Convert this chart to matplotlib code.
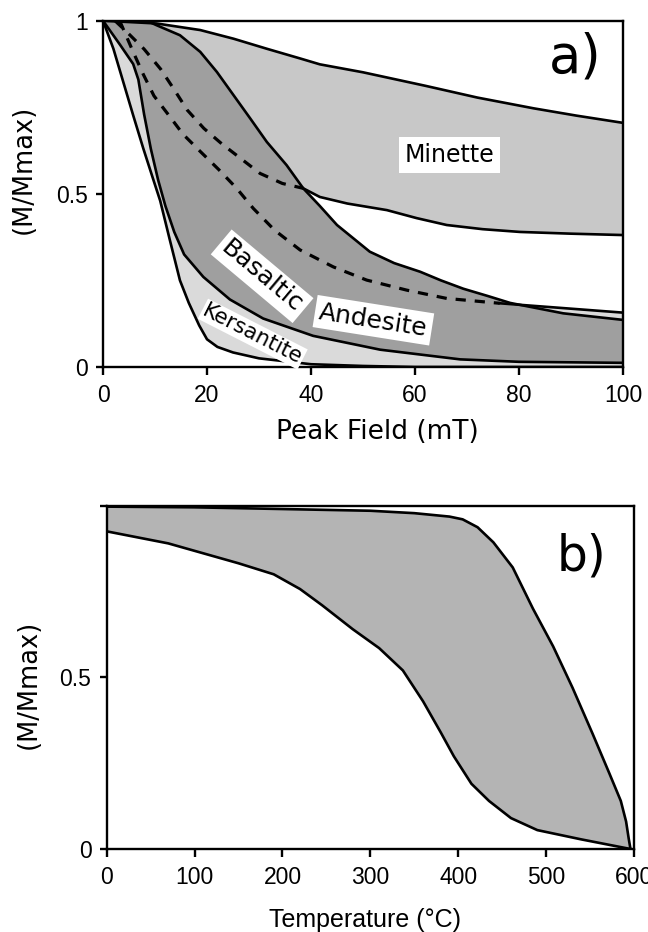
import numpy as np
import matplotlib
matplotlib.use("Agg")
import matplotlib.pyplot as plt

# ---- panel a: AF demagnetisation envelopes (Peak Field, mT) ----
minette_top_x = [0, 10.3, 18.7, 25.1, 31.5, 37.9, 41.7, 50, 62, 72, 82.8, 91, 100]
minette_top_y = [1.0, 0.992, 0.973, 0.948, 0.919, 0.891, 0.874, 0.851, 0.812, 0.778, 0.747, 0.726, 0.705]

# hidden (dashed) part of the minette lower bound, then the visible part
minette_low_dash_x = [2.3, 4.55, 7.9, 11.1, 13.65, 16.2, 19.4, 22.8, 26.5, 30.2, 34.5, 38.5]
minette_low_dash_y = [1.0, 0.968, 0.918, 0.860, 0.802, 0.742, 0.689, 0.645, 0.602, 0.559, 0.530, 0.516]
minette_low_x = [38.5, 41.7, 47, 54.6, 60.3, 66.1, 73, 80.2, 90, 100]
minette_low_y = [0.516, 0.491, 0.472, 0.453, 0.43, 0.41, 0.398, 0.39, 0.385, 0.381]

basalt_top_x = [0, 8.4, 10.3, 14.8, 18.7, 21.9, 25.1, 28.3, 31.5, 35.3, 38.5, 41.7, 45, 51.3,
                56, 61, 65, 69.3, 74, 78.3, 88.5, 100]
basalt_top_y = [1.0, 1.0, 0.987, 0.958, 0.910, 0.852, 0.785, 0.718, 0.650, 0.583, 0.516, 0.465,
                0.41, 0.333, 0.30, 0.275, 0.25, 0.226, 0.205, 0.185, 0.155, 0.136]
basalt_low_x = [0, 3.3, 5.8, 6.8, 7.9, 9.2, 10.6, 12, 13.7, 15.6, 19.3, 24.4, 30.8, 40.4,
                53.3, 68.7, 80, 100]
basalt_low_y = [1.0, 0.93, 0.875, 0.83, 0.73, 0.63, 0.54, 0.465, 0.39, 0.325, 0.26, 0.195,
                0.14, 0.09, 0.05, 0.022, 0.015, 0.012]

kers_low_x = [0, 2.0, 3.9, 5.8, 7.75, 9.7, 11.0, 12.8, 14.8, 16.5, 18.5, 20, 22, 25, 30, 40,
              50, 60, 100]
kers_low_y = [1.0, 0.919, 0.823, 0.727, 0.631, 0.54, 0.48, 0.37, 0.25, 0.185, 0.12, 0.08,
              0.058, 0.042, 0.025, 0.008, 0.003, 0.0, 0.0]
kers_top_dash_x = [3.2, 5.8, 7.75, 9.8, 12.75, 15.4, 18.8, 22.2, 25.7, 28.9, 33, 37.9, 44.3,
                   50.7, 58.4, 66.1, 76.3]
kers_top_dash_y = [1.0, 0.910, 0.845, 0.783, 0.725, 0.672, 0.621, 0.571, 0.516, 0.458, 0.395,
                   0.338, 0.289, 0.251, 0.222, 0.198, 0.184]
kers_top_x = [76.3, 100]
kers_top_y = [0.184, 0.157]

field_ticks = [0, 20, 40, 60, 80, 100]

# ---- panel b: thermal demagnetisation envelope (Temperature, C) ----
temp_hi_x = [0, 100, 200, 300, 350, 390, 405, 422, 440, 462, 485, 508, 530, 553, 572, 585,
             591, 594, 596]
temp_hi_y = [0.997, 0.995, 0.99, 0.985, 0.978, 0.968, 0.96, 0.937, 0.893, 0.82, 0.70, 0.59,
             0.47, 0.335, 0.22, 0.14, 0.08, 0.03, 0.0]
temp_lo_x = [0, 70, 150, 190, 220, 245, 280, 310, 337, 360, 380, 395, 415, 435, 460, 490,
             540, 580, 596]
temp_lo_y = [0.925, 0.89, 0.832, 0.80, 0.757, 0.71, 0.64, 0.585, 0.52, 0.43, 0.34, 0.27,
             0.19, 0.14, 0.09, 0.055, 0.028, 0.008, 0.0]

temp_ticks = [0, 100, 200, 300, 400, 500, 600]

LIGHT = "#dadada"
MINETTE = "#c8c8c8"
DARK = "#9f9f9f"
BAND_B = "#b4b4b4"
LW = 1.9
DASH = (0, (3.2, 2.8))
TICK_FONT = "Liberation Sans"


def band(ax, xu, yu, xl, yl, color):
    xs = np.concatenate([xu, xl[::-1]])
    ys = np.concatenate([yu, yl[::-1]])
    ax.fill(xs, ys, color=color, lw=0, zorder=1)


def style_axes(ax):
    for s in ax.spines.values():
        s.set_linewidth(1.7)
        s.set_zorder(5)
    ax.tick_params(direction="out", width=1.7, labelsize=16.5, pad=6,
                   labelfontfamily=TICK_FONT)
    ax.tick_params(axis="x", length=6)
    ax.tick_params(axis="y", length=5)


fig = plt.figure(figsize=(6.48, 9.32), dpi=100)
ax_a = fig.add_axes([103 / 648, 1 - 367 / 932, 520 / 648, 346.3 / 932])
ax_b = fig.add_axes([106.7 / 648, 1 - 849 / 932, 527.3 / 648, 343.4 / 932])

# panel a fills: minette and kersantite light, basaltic andesite darker on top
a = np.asarray
band(ax_a, a(minette_top_x), a(minette_top_y),
     a([0] + minette_low_dash_x + minette_low_x[1:]),
     a([1.0] + minette_low_dash_y + minette_low_y[1:]), MINETTE)
band(ax_a, a([0] + kers_top_dash_x + kers_top_x[1:]),
     a([1.0] + kers_top_dash_y + kers_top_y[1:]),
     a(kers_low_x), a(kers_low_y), LIGHT)
band(ax_a, a(basalt_top_x), a(basalt_top_y), a(basalt_low_x), a(basalt_low_y), DARK)

ax_a.plot(minette_top_x, minette_top_y, color="k", lw=LW, zorder=3)
ax_a.plot(minette_low_dash_x, minette_low_dash_y, color="k", lw=2.3, ls=DASH, zorder=3)
ax_a.plot(minette_low_x, minette_low_y, color="k", lw=LW, zorder=3)
ax_a.plot(basalt_top_x, basalt_top_y, color="k", lw=LW, zorder=3)
ax_a.plot(basalt_low_x, basalt_low_y, color="k", lw=LW, zorder=3)
ax_a.plot(kers_low_x, kers_low_y, color="k", lw=LW, zorder=3)
ax_a.plot(kers_top_dash_x, kers_top_dash_y, color="k", lw=2.3, ls=DASH, zorder=3)
ax_a.plot(kers_top_x, kers_top_y, color="k", lw=LW, zorder=3)

ax_a.set_xlim(0, 100)
ax_a.set_ylim(0, 1)
ax_a.set_xticks(field_ticks)
ax_a.set_yticks([0, 0.5, 1])
ax_a.set_yticklabels(["0", "0.5", "1"])
style_axes(ax_a)
ax_a.set_xlabel("Peak Field (mT)", fontsize=19)
ax_a.xaxis.set_label_coords(0.527, -0.15)
ax_a.set_ylabel("(M/Mmax)", fontsize=18.5)
ax_a.yaxis.set_label_coords(-0.127, 0.57)

white = dict(facecolor="white", edgecolor="none", pad=3)
ax_a.text(66.7, 0.612, "Minette", fontsize=17, ha="center", va="center",
          bbox=dict(facecolor="white", edgecolor="none", pad=4), zorder=6)
ax_a.text(30.6, 0.262, "Basaltic", fontsize=18, ha="center", va="center",
          rotation=-40, rotation_mode="anchor", bbox=white, zorder=6)
ax_a.text(52.0, 0.135, "Andesite", fontsize=18, ha="center", va="center",
          rotation=-9, rotation_mode="anchor", bbox=white, zorder=6)
ax_a.text(28.8, 0.095, "Kersantite", fontsize=15.5, ha="center", va="center",
          rotation=-27, rotation_mode="anchor",
          bbox=dict(facecolor="white", edgecolor="none", pad=1), zorder=6)
ax_a.text(90.8, 0.893, "a)", fontsize=38, ha="center", va="center", zorder=6)

# panel b
band(ax_b, a(temp_hi_x), a(temp_hi_y), a(temp_lo_x), a(temp_lo_y), BAND_B)
ax_b.plot(temp_hi_x, temp_hi_y, color="k", lw=LW, zorder=3)
ax_b.plot(temp_lo_x, temp_lo_y, color="k", lw=LW, zorder=3)
ax_b.set_xlim(0, 600)
ax_b.set_ylim(0, 1)
ax_b.set_xticks(temp_ticks)
ax_b.set_yticks([0, 0.5, 1])
ax_b.set_yticklabels(["0", "0.5", ""])
style_axes(ax_b)
ax_b.set_xlabel("Temperature (\u00b0C)", fontsize=18, family="Liberation Sans")
ax_b.xaxis.set_label_coords(0.49, -0.172)
ax_b.set_ylabel("(M/Mmax)", fontsize=18.5)
ax_b.yaxis.set_label_coords(-0.123, 0.48)
ax_b.text(540, 0.851, "b)", fontsize=35, ha="center", va="center", zorder=6)

fig.savefig("out.png", dpi=100)
